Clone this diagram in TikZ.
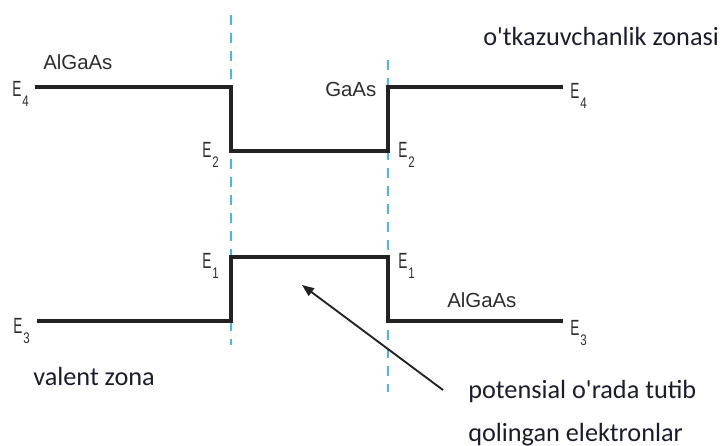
\documentclass[tikz,border=0pt]{standalone}
\usepackage{fontspec}
\setmainfont{Liberation Sans}
\newfontfamily\efont[FakeStretch=0.62]{Liberation Sans}
\newfontfamily\subfont[FakeStretch=0.75]{Liberation Sans}
\newfontfamily\cfont{Carlito}
\usetikzlibrary{arrows.meta}
\definecolor{levelcol}{RGB}{34,34,34}
\definecolor{dashcol}{RGB}{70,185,235}
\definecolor{labcol}{RGB}{45,45,45}
\definecolor{navy}{RGB}{28,28,48}
\newcommand{\elab}[1]{{\efont\fontsize{16.5}{20}\selectfont E}\kern0.8pt\raisebox{-7.5pt}{\subfont\fontsize{11.5}{13}\selectfont #1}}
\tikzset{
  level/.style={draw=levelcol, line width=2.3pt, line join=miter},
  border/.style={draw=dashcol, line width=1.5pt, dash pattern=on 7.5pt off 6pt},
  elabel/.style={anchor=base west, inner sep=0pt, text=labcol},
  mat/.style={anchor=base west, inner sep=0pt, text=labcol, font=\fontsize{15.3}{18}\selectfont},
  zone/.style={anchor=base west, inner sep=0pt, text=navy, font=\cfont\fontsize{19.7}{24}\selectfont},
  pointer/.style={draw=levelcol, line width=1.4pt, -{Triangle[length=9pt,width=7pt]}}
}
\begin{document}
\begin{tikzpicture}[x=0.75pt, y=-0.75pt]
\useasboundingbox (0,0) rectangle (728,446);
% interface lines
\coordinate (d1t) at (231,15);
\coordinate (d1b) at (231,345);
\coordinate (d2t) at (388,60);
\coordinate (d2b) at (388,392);
\draw[border] (d1t) -- (d1b);
\draw[border] (d2t) -- (d2b);
% conduction band
\coordinate (a1) at (35,87);
\coordinate (a2) at (231,87);
\coordinate (a3) at (231,151);
\coordinate (a4) at (388,151);
\coordinate (a5) at (388,87);
\coordinate (a6) at (563,87);
\draw[level] (a1) -- (a2) -- (a3) -- (a4) -- (a5) -- (a6);
% valence band
\coordinate (b1) at (37,321);
\coordinate (b2) at (231,321);
\coordinate (b3) at (231,257);
\coordinate (b4) at (388,257);
\coordinate (b5) at (388,321);
\coordinate (b6) at (563,321);
\draw[level] (b1) -- (b2) -- (b3) -- (b4) -- (b5) -- (b6);
% energy labels
\node[elabel] (e4l) at (12,96) {\elab{4}};
\node[elabel] (e2l) at (202,157) {\elab{2}};
\node[elabel] (e2r) at (398,157) {\elab{2}};
\node[elabel] (e4r) at (570,98) {\elab{4}};
\node[elabel] (e1l) at (202,268) {\elab{1}};
\node[elabel] (e1r) at (398,268) {\elab{1}};
\node[elabel] (e3l) at (13,333) {\elab{3}};
\node[elabel] (e3r) at (570,335) {\elab{3}};
% material labels
\node[mat] (m1) at (43,69) {AlGaAs};
\node[mat] (m2) at (325,96) {GaAs};
\node[mat] (m3) at (447,307) {AlGaAs};
% zone labels
\node[zone] (cz) at (483,45) {o'tkazuvchanlik zonasi};
\node[zone] (vz) at (33,385) {valent zona};
\node[zone] (p1) at (468,398) {potensial o'rada tutib};
\node[zone] (p2) at (468,441) {qolingan elektronlar};
% arrow
\coordinate (tail) at (443,390);
\coordinate (tip) at (302,285);
\draw[pointer] (tail) -- (tip);
\end{tikzpicture}
\end{document}
